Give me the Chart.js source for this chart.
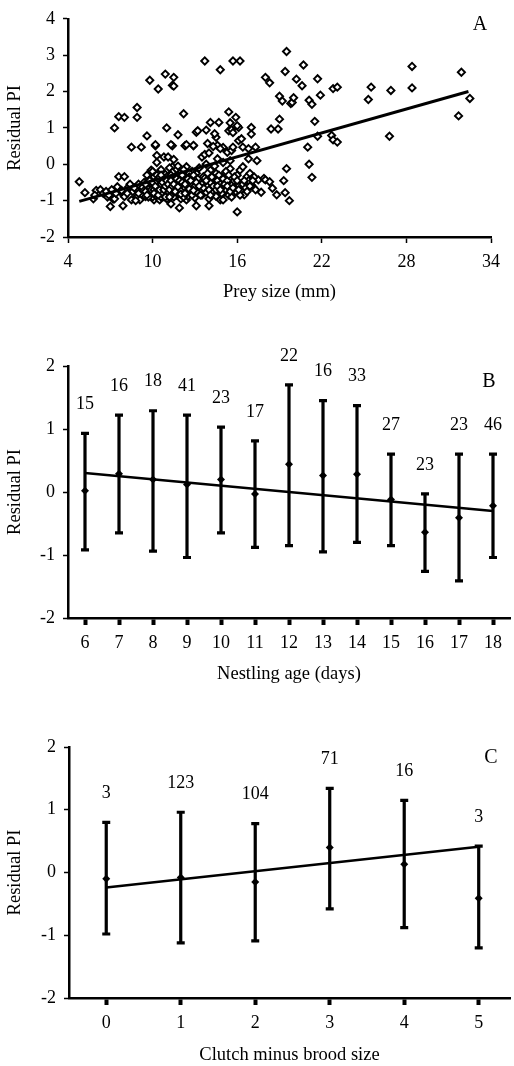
<!DOCTYPE html>
<html>
<head>
<meta charset="utf-8">
<script src="https://cdn.jsdelivr.net/npm/chart.js@4.4.0/dist/chart.umd.min.js"></script>
<style>
  body { margin: 0; background: #fff; }
  canvas { position: absolute; left: 0; }
</style>
</head>
<body>
<canvas id="chartA" width="514" height="310" style="top:0px"></canvas>
<canvas id="chartB" width="514" height="380" style="top:310px"></canvas>
<canvas id="chartC" width="514" height="376" style="top:690px"></canvas>
<script>
// ---------- PANEL A : residual PI vs prey size ----------
const preyPoints = [
  // scattered high values
  [7.3,1.0],[7.6,1.31],[8.0,1.29],[8.5,0.47],[8.9,1.56],[8.9,1.29],[9.2,0.47],[9.6,0.78],[9.8,2.31],[10.2,0.51],
  [10.4,2.07],[10.9,2.48],[11.5,2.39],[11.4,2.17],[11.5,2.15],[11.0,1.0],[11.8,0.81],[12.2,1.39],[11.4,0.51],[12.3,0.51],
  [12.9,0.51],[13.1,0.88],[13.2,0.92],[13.7,2.84],[13.8,0.94],[14.1,1.15],[14.7,1.15],[14.8,2.6],[14.5,0.74],[14.4,0.84],
  [15.4,1.44],[15.5,1.14],[15.4,0.92],[15.6,0.95],[15.7,0.87],[15.7,2.84],[16.2,2.84],[15.9,1.29],[16.1,1.01],[16.0,1.06],
  [16.1,0.65],[16.3,0.7],[17.0,1.01],[17.0,0.83],[18.0,2.39],[18.3,2.24],[18.4,0.97],[18.9,0.97],[19.0,1.24],[19.0,1.87],
  [19.2,1.74],[19.4,2.55],[19.5,3.1],[19.8,1.67],[19.9,1.7],[20.0,1.83],[20.2,2.34],[20.6,2.16],[20.7,2.73],[21.1,1.76],
  [21.3,1.65],[21.5,1.18],[21.0,0.47],[21.1,0.0],[21.3,-0.36],[21.7,2.35],[21.9,1.9],[21.7,0.77],[22.7,0.79],[22.8,0.67],
  [23.1,0.61],[22.8,2.08],[23.1,2.12],[25.3,1.78],[25.5,2.12],[26.9,2.03],[26.8,0.77],[28.4,2.69],[28.4,2.1],[31.9,2.53],
  [31.7,1.33],[32.5,1.81],[16.0,-1.31],[19.5,-0.12],[19.3,-0.45],[19.4,-0.78],[19.7,-1.0],[13.9,0.57],[14.6,0.52],[15.0,0.46],
  [10.2,0.54],[11.3,0.54],[12.9,0.52],[14.3,0.49],[14.8,0.43],[15.3,0.33],[15.6,0.38],[15.7,0.47],[16.4,0.47],[16.8,0.43],
  [17.3,0.47],[17.4,0.1],[16.8,0.15],[12.4,0.54],
  // main cloud
  [4.8,-0.48],[5.2,-0.78],[5.8,-0.95],[6.0,-0.72],[6.3,-0.7],[6.5,-0.8],[6.7,-0.75],[6.8,-0.9],[7.0,-1.16],[7.1,-0.7],
  [7.2,-0.96],[7.3,-0.95],[7.5,-0.62],[7.6,-0.34],[7.7,-0.75],[7.8,-0.72],[7.9,-1.14],[8.0,-0.34],[8.0,-0.89],[8.3,-0.62],
  [8.5,-0.98],[8.6,-0.75],[8.9,-0.89],[9.1,-0.98],[9.3,-0.7],[9.5,-0.89],[9.6,-0.62],[9.7,-0.43],[9.8,-0.8],[9.9,-0.52],
  [9.9,-0.16],[10.1,-0.98],[10.2,-0.34],[10.3,0.24],[10.3,-0.8],[10.3,-0.57],[10.4,-0.93],[10.4,-0.25],[10.5,-0.98],[10.6,-0.43],
  [10.8,0.2],[10.8,-0.89],[10.9,-0.57],[11.0,-0.7],[11.1,0.2],[11.1,-0.43],[11.2,-0.8],[11.3,-1.09],[11.4,-0.07],[11.5,0.13],
  [11.5,-0.62],[11.6,-0.3],[11.7,-0.48],[11.9,-1.2],[11.9,-0.25],[12.1,-0.57],[12.2,-0.39],[12.4,-0.07],[12.4,-0.98],[12.4,-0.75],
  [13.0,-0.8],[13.1,-1.14],[13.1,-0.25],[13.4,-0.48],[13.5,0.2],[13.6,-0.34],[13.7,0.27],[13.8,-0.57],[14.0,0.31],[14.0,-1.14],
  [14.1,-0.16],[14.3,-0.43],[14.5,-0.25],[14.7,-0.66],[14.8,-0.98],[14.9,-0.34],[15.0,-0.98],[15.0,-0.8],[15.5,-0.12],[15.5,-0.66],
  [15.7,-0.8],[15.7,-0.48],[16.0,-0.3],[16.1,-0.57],[16.2,-0.16],[16.3,-0.8],[16.3,-0.7],[16.4,-0.07],[16.5,-0.84],[16.7,-0.34],
  [16.9,-0.25],[17.0,-0.57],[17.1,-0.62],[17.5,-0.43],[17.7,-0.77],[17.9,-0.39],[18.0,-0.43],[18.3,-0.48],[18.5,-0.66],[18.8,-0.84],
  [9.8,-0.65],[10.0,-0.75],[10.1,-0.55],[10.2,-0.45],[10.3,-0.68],[10.4,-0.6],[10.5,-0.5],[10.6,-0.72],[10.7,-0.62],[10.8,-0.4],
  [10.9,-0.75],[11.0,-0.55],[11.1,-0.65],[11.2,-0.38],[11.3,-0.58],[11.4,-0.72],[11.5,-0.45],[11.6,-0.6],[11.7,-0.85],[11.8,-0.52],
  [11.9,-0.68],[12.0,-0.4],[12.1,-0.78],[12.2,-0.58],[12.3,-0.46],[12.4,-0.3],[12.5,-0.62],[12.6,-0.5],[12.7,-0.7],[12.8,-0.4],
  [12.9,-0.55],[13.0,-0.35],[13.2,-0.65],[13.3,-0.45],[13.5,-0.7],[13.7,-0.38],[13.9,-0.6],[14.1,-0.5],[14.2,-0.75],[14.4,-0.62],
  [14.6,-0.45],[14.8,-0.55],[15.0,-0.4],[15.2,-0.7],[15.4,-0.85],[15.6,-0.58],[15.8,-0.35],[15.9,-0.75],[10.0,-0.9],[10.5,-0.85],
  [11.0,-0.95],[11.5,-0.9],[12.0,-0.95],[12.5,-0.88],[13.0,-0.92],[13.5,-0.85],[14.0,-0.95],[14.5,-0.88],[9.6,-0.3],[10.0,-0.2],
  [10.6,-0.15],[11.2,-0.1],[11.8,-0.05],[12.2,-0.15],[12.8,-0.2],[13.3,-0.1],[13.8,0.0],[14.4,-0.05],[15.0,0.05],[15.5,0.1],
  [10.3,0.05],[10.9,-0.28],[11.4,-0.22],[12.6,-0.25],[13.9,-0.25],[14.6,0.15],[15.2,-0.2],
  [9.0,-0.8],[9.2,-0.6],[9.4,-0.5],[9.5,-0.75],[9.7,-0.9],[9.9,-0.4],[10.0,-0.6],[10.1,-0.35],[10.2,-0.85],[10.3,-0.3],
  [10.4,-0.75],[10.5,-0.65],[10.6,-0.9],[10.7,-0.35],[10.7,-0.8],[10.8,-0.55],[10.9,-0.45],[11.0,-0.85],[11.0,-0.35],[11.1,-0.75],
  [11.2,-0.55],[11.3,-0.3],[11.3,-0.85],[11.4,-0.45],[11.5,-0.75],[11.6,-0.45],[11.7,-0.65],[11.8,-0.3],[11.9,-0.8],[12.0,-0.55],
  [12.0,-0.7],[12.1,-0.3],[12.2,-0.9],[12.3,-0.65],[12.4,-0.45],[12.5,-0.75],[12.6,-0.35],[12.7,-0.55],[12.8,-0.85],[12.9,-0.3],
  [13.0,-0.6],[13.1,-0.75],[13.2,-0.4],[13.4,-0.85],[13.5,-0.55],[13.6,-0.65],[13.8,-0.45],[14.0,-0.7],[14.1,-0.85],[14.2,-0.35],
  [14.3,-0.6],[14.5,-0.7],[14.7,-0.3],[14.9,-0.8],[15.1,-0.55],[15.3,-0.45],[15.4,-0.3],[15.6,-0.9],[15.8,-0.65],[16.0,-0.45],
  [16.2,-0.85],[16.4,-0.55],[16.6,-0.65],[16.8,-0.45],[17.2,-0.35],[17.3,-0.7],[8.2,-0.8],[8.4,-0.55],[8.7,-0.65],[8.8,-1.0],
  [9.0,-0.55],[6.9,-0.85],[7.4,-0.8],[5.9,-0.85],
  [9.5,-0.55],[9.6,-0.85],[9.8,-0.45],[9.9,-0.7],[10.0,-0.5],[10.1,-0.7],[10.1,-0.8],[10.2,-0.6],[10.3,-0.45],[10.4,-0.4],
  [10.4,-0.85],[10.5,-0.35],[10.5,-0.7],[10.6,-0.55],[10.6,-0.3],[10.7,-0.5],[10.8,-0.7],[10.9,-0.6],[10.9,-0.9],[11.0,-0.45],
  [11.1,-0.55],[11.2,-0.7],[11.2,-0.9],[11.3,-0.45],[11.4,-0.6],[11.5,-0.55],[11.6,-0.75],[11.7,-0.4],[11.8,-0.62],[11.9,-0.45],
  [12.0,-0.82],[12.1,-0.5],[12.3,-0.8],[12.3,-0.55],[12.5,-0.4],[12.6,-0.68],[12.7,-0.45],[12.9,-0.72],[13.1,-0.5],[13.3,-0.6],
  [15.3,-0.6],[15.5,-0.75],[15.7,-0.65],[16.1,-0.7],[16.5,-0.45],[16.7,-0.75],[16.9,-0.6],[17.1,-0.45],[14.6,-0.6],[14.8,-0.7]
];
const fitA = [[4.8,-1.02],[32.4,2.0]];
const xTicksA = [4,10,16,22,28,34];

// ---------- PANEL B : residual PI vs nestling age ----------
const nestlingAge = [6,7,8,9,10,11,12,13,14,15,16,17,18];
const meanB  = [0.02,0.29,0.2,0.12,0.2,-0.03,0.44,0.26,0.28,-0.12,-0.64,-0.41,-0.22];
const upperB = [0.93,1.22,1.29,1.22,1.03,0.81,1.7,1.45,1.37,0.6,-0.03,0.6,0.6];
const lowerB = [-0.92,-0.65,-0.94,-1.04,-0.65,-0.88,-0.85,-0.95,-0.8,-0.85,-1.26,-1.41,-1.04];
const countB = [15,16,18,41,23,17,22,16,33,27,23,23,46];
const fitB = [[6,0.3],[18,-0.3]];

// ---------- PANEL C : residual PI vs clutch minus brood size ----------
const clutchDiff = [0,1,2,3,4,5];
const meanC  = [-0.1,-0.08,-0.15,0.4,0.13,-0.41];
const upperC = [0.8,0.96,0.78,1.34,1.15,0.42];
const lowerC = [-0.98,-1.12,-1.09,-0.58,-0.88,-1.2];
const countC = [3,123,104,71,16,3];
const fitC = [[0,-0.24],[5,0.41]];

const yTicksA = [-2,-1,0,1,2,3,4];
const yTicksBC = [-2,-1,0,1,2];

const SERIF = '"Liberation Serif", "Times New Roman", serif';
Chart.defaults.font.family = SERIF;
Chart.defaults.color = '#000';

// error bars, sample sizes and panel letter
const panelDecor = {
    id: 'panelDecor',
    afterDatasetsDraw(chart, args, opts) {
        const ctx = chart.ctx;
        const x = chart.scales.x, y = chart.scales.y;
        ctx.save();
        ctx.strokeStyle = '#000';
        ctx.fillStyle = '#000';
        if (opts.xs) {
            ctx.lineWidth = 3.2;
            ctx.font = '18px ' + SERIF;
            ctx.textAlign = 'center';
            ctx.textBaseline = 'middle';
            opts.xs.forEach((v, i) => {
                const px = x.getPixelForValue(v);
                const top = y.getPixelForValue(opts.hi[i]);
                const bot = y.getPixelForValue(opts.lo[i]);
                ctx.beginPath();
                ctx.moveTo(px, top); ctx.lineTo(px, bot);
                ctx.moveTo(px - 4, top); ctx.lineTo(px + 4, top);
                ctx.moveTo(px - 4, bot); ctx.lineTo(px + 4, bot);
                ctx.stroke();
                ctx.fillText(String(opts.n[i]), px, top - 29);
            });
        }
        ctx.font = '20px ' + SERIF;
        ctx.textAlign = 'center';
        ctx.textBaseline = 'middle';
        ctx.fillText(opts.letter, opts.lx, opts.ly);
        ctx.restore();
    }
};

function axes(o) {
    return {
        x: {
            type: 'linear', min: o.xmin, max: o.xmax,
            afterBuildTicks: s => { s.ticks = o.xticks.map(v => ({ value: v })); },
            afterFit: s => { s.height = o.xh; },
            border: { display: true, color: '#000', width: 2.5 },
            grid: { drawOnChartArea: false, drawTicks: true, tickLength: o.tl, tickWidth: o.tw, color: '#000' },
            ticks: { font: { size: 18 }, padding: o.tp, maxRotation: 0, autoSkip: false },
            title: { display: true, text: o.xtitle, font: { size: 18.5 }, padding: 0 }
        },
        y: {
            type: 'linear', min: o.ymin, max: o.ymax,
            afterBuildTicks: s => { s.ticks = o.yticks.map(v => ({ value: v })); },
            afterFit: s => { s.width = o.yw; },
            border: { display: true, color: '#000', width: 2.5 },
            grid: { drawOnChartArea: false, drawTicks: true, tickLength: 5, tickWidth: 1.5, color: '#000' },
            ticks: { font: { size: 18 }, padding: 8 },
            title: { display: true, text: 'Residual PI', font: { size: 18.5 }, padding: { top: 4, bottom: 0 } }
        }
    };
}

const baseOpts = {
    responsive: false,
    animation: false,
    devicePixelRatio: 1,
    events: []
};

// panel A
new Chart(document.getElementById('chartA'), {
    type: 'scatter',
    data: {
        datasets: [
            { data: fitA.map(p => ({ x: p[0], y: p[1] })), showLine: true, borderColor: '#000', borderWidth: 3, pointRadius: 0 },
            { data: preyPoints.map(p => ({ x: p[0], y: p[1] })), pointStyle: 'rectRot', pointRadius: 3.6, pointBorderWidth: 1.9,
              pointBorderColor: '#000', pointBackgroundColor: '#fff' }
        ]
    },
    options: Object.assign({}, baseOpts, {
        layout: { padding: { top: 16, right: 23, bottom: 7, left: 0 } },
        plugins: { legend: { display: false }, tooltip: { enabled: false },
            panelDecor: { letter: 'A', lx: 480, ly: 25 } },
        scales: axes({ xmin: 4, xmax: 34, xticks: xTicksA, xh: 66, tl: 6, tw: 1.5, tp: 8,
            xtitle: 'Prey size (mm)', ymin: -2, ymax: 4, yticks: yTicksA, yw: 68 })
    }),
    plugins: [panelDecor]
});

// panel B
new Chart(document.getElementById('chartB'), {
    type: 'scatter',
    data: {
        datasets: [
            { data: fitB.map(p => ({ x: p[0], y: p[1] })), showLine: true, borderColor: '#000', borderWidth: 2.5, pointRadius: 0 },
            { data: nestlingAge.map((a, i) => ({ x: a, y: meanB[i] })), pointStyle: 'rectRot', pointRadius: 4,
              pointBackgroundColor: '#000', pointBorderColor: '#000', pointBorderWidth: 0 }
        ]
    },
    options: Object.assign({}, baseOpts, {
        layout: { padding: { top: 56, right: 2, bottom: 5, left: 0 } },
        plugins: { legend: { display: false }, tooltip: { enabled: false },
            panelDecor: { letter: 'B', lx: 489, ly: 72, xs: nestlingAge, hi: upperB, lo: lowerB, n: countB } },
        scales: axes({ xmin: 5.5, xmax: 18.5, xticks: nestlingAge, xh: 67, tl: 7, tw: 4, tp: 7,
            xtitle: 'Nestling age (days)', ymin: -2, ymax: 2, yticks: yTicksBC, yw: 68 })
    }),
    plugins: [panelDecor]
});

// panel C
new Chart(document.getElementById('chartC'), {
    type: 'scatter',
    data: {
        datasets: [
            { data: fitC.map(p => ({ x: p[0], y: p[1] })), showLine: true, borderColor: '#000', borderWidth: 2.5, pointRadius: 0 },
            { data: clutchDiff.map((c, i) => ({ x: c, y: meanC[i] })), pointStyle: 'rectRot', pointRadius: 4,
              pointBackgroundColor: '#000', pointBorderColor: '#000', pointBorderWidth: 0 }
        ]
    },
    options: Object.assign({}, baseOpts, {
        layout: { padding: { top: 57, right: 4, bottom: 0, left: 0 } },
        plugins: { legend: { display: false }, tooltip: { enabled: false },
            panelDecor: { letter: 'C', lx: 491, ly: 68, xs: clutchDiff, hi: upperC, lo: lowerC, n: countC } },
        scales: axes({ xmin: -0.5, xmax: 5.42, xticks: clutchDiff, xh: 68, tl: 7, tw: 4, tp: 7,
            xtitle: 'Clutch minus brood size', ymin: -2, ymax: 2, yticks: yTicksBC, yw: 69 })
    }),
    plugins: [panelDecor]
});
</script>
</body>
</html>
